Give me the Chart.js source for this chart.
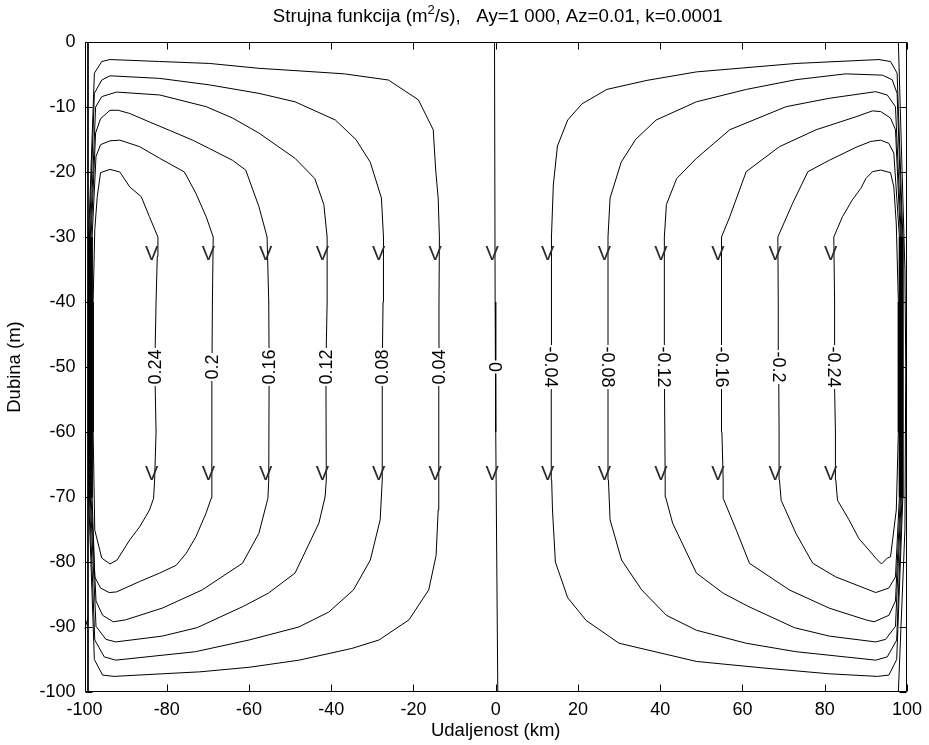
<!DOCTYPE html>
<html>
<head>
<meta charset="utf-8">
<script src="https://cdn.jsdelivr.net/npm/chart.js@4/dist/chart.umd.min.js"></script>
<style>html,body{margin:0;padding:0;background:#fff;}canvas{display:block;}</style>
</head>
<body>
<canvas id="c" width="929" height="745"></canvas>
<script>
// ---- tick labels ----
const xTickValues = [-100, -80, -60, -40, -20, 0, 20, 40, 60, 80, 100];
const yTickValues = [0, -10, -20, -30, -40, -50, -60, -70, -80, -90, -100];

// ---- contour levels (labels) and where they sit ----
const levelLabels = ['0.24', '0.2', '0.16', '0.12', '0.08', '0.04', '0', '-0.04', '-0.08', '-0.12', '-0.16', '-0.2', '-0.24'];
const levelValues = [0.24, 0.2, 0.16, 0.12, 0.08, 0.04, 0, -0.04, -0.08, -0.12, -0.16, -0.2, -0.24];
const levelLineX = [-82.8, -69.0, -55.1, -41.3, -27.6, -13.9, 0.0, 13.5, 27.3, 41.0, 54.9, 68.8, 82.3];
const labelDepth = [-50];
const arrowDepths = [-32.5, -66.4];

// ---- contour psi = 0.24 ----
const c024x = [-82.9, -82.6, -82.3, -82.15, -84.2, -86.2, -89.0, -91.4, -93.8, -96.1, -96.9, -97.5, -97.9, -97.9, -97.5, -95.8, -93.8, -92.1, -90.6, -89.0, -86.6, -84.2, -83.2, -82.95, -82.6, -82.9];
const c024y = [-50, -40, -33, -30, -26.9, -23.8, -22.3, -20.0, -19.6, -20.1, -23.8, -28.9, -40, -60, -75.1, -79.4, -80.3, -79.7, -78.2, -76.6, -74.6, -72.0, -70.2, -67.4, -60, -50];
// ---- contour psi = 0.2 ----
const c020x = [-69.0, -68.9, -68.7, -70.4, -72.9, -75.7, -81.7, -86.6, -91.4, -93.8, -96.1, -97.2, -98.15, -98.15, -97.5, -96.1, -94.0, -92.2, -86.6, -81.7, -77.7, -75.3, -72.9, -70.45, -69.2, -69.0, -69.1, -69.0];
const c020y = [-50, -40, -30, -26.9, -23.3, -20.0, -17.9, -16.1, -15.1, -15.2, -15.8, -17.6, -30, -70, -82.3, -84.0, -84.7, -84.6, -83.0, -81.7, -80.5, -78.7, -76.1, -72.5, -70.2, -67.4, -60, -50];
// ---- contour psi = 0.16 ----
const c016x = [-55.1, -55.2, -55.6, -57.6, -60.8, -64.0, -69.6, -73.7, -79.3, -84.2, -89.0, -91.8, -93.8, -96.1, -97.3, -98.4, -98.4, -97.2, -95.6, -93.0, -90.0, -81.1, -71.4, -61.6, -57.6, -55.4, -55.2, -55.1];
const c016y = [-50, -40, -30, -25.3, -19.7, -18.2, -16.4, -15.1, -13.6, -12.3, -11.0, -10.5, -10.5, -11.8, -14.0, -30, -70, -86.0, -88.2, -89.2, -88.9, -87.1, -84.3, -80.2, -75.6, -70.2, -67.4, -50];
// ---- contour psi = 0.12 ----
const c012x = [-41.3, -41.0, -41.0, -41.8, -44.0, -48.8, -57.6, -64.0, -70.4, -81.7, -92.2, -95.8, -97.3, -98.6, -98.6, -97.2, -94.8, -92.4, -81.1, -72.6, -61.3, -55.3, -48.8, -46.0, -43.0, -41.5, -41.2, -41.3];
const c012y = [-50, -40, -30, -25, -21, -17.9, -14.0, -11.7, -9.95, -8.15, -7.7, -8.4, -10.0, -30, -70, -89.9, -91.9, -92.3, -91.4, -90.1, -86.8, -84.8, -81.7, -78, -74, -70, -67.4, -50];
// ---- contour psi = 0.08 ----
const c008x = [-27.6, -27.4, -27.3, -27.8, -30.5, -34.0, -39.0, -48.8, -57.6, -69.6, -81.7, -93.8, -95.8, -97.6, -98.8, -98.8, -97.5, -95.2, -92.4, -73.0, -60.0, -47.9, -40.6, -34.6, -30.5, -28.1, -27.6, -27.6];
const c008y = [-50, -40, -30, -24, -18.5, -15, -12, -9.2, -7.9, -6.6, -5.6, -5.2, -5.85, -7.9, -30, -70, -92, -94.6, -95.1, -93.8, -92, -90, -87.7, -84.3, -79.7, -73.5, -67.4, -50];
// ---- contour psi = 0.04 ----
const c004x = [-13.9, -13.8, -13.7, -14.0, -14.6, -15.2, -18.8, -26.1, -36.8, -48.8, -57.6, -69.6, -81.7, -93.8, -95.8, -97.6, -99.0, -99.0, -97.6, -95.6, -92.8, -81.1, -72.0, -60.0, -47.8, -35.0, -28.4, -21.1, -16.3, -14.5, -14.0, -13.8, -13.9];
const c004y = [-50, -40, -30, -24, -19.7, -13.5, -8.9, -5.85, -4.9, -4.4, -4.05, -3.3, -3.0, -2.7, -3.0, -4.8, -30, -70, -95, -97.4, -97.6, -97.2, -96.9, -96.2, -95.1, -93.3, -92.0, -88.9, -84.3, -79, -72, -67.4, -50];
// ---- contour psi = 0 (middle and walls) ----
const c000x = [-0.3, -0.15, 0.0, 0.5];
const c000y = [0, -40, -60, -100];
const wallLx = [-99.15, -99.15];
const wallLy = [0, -100];
const wallBitX = [-99.95, -99.15];
const wallBitY = [-90.3, -88.6];
const wallRx = [97.9, 99.5, 99.7, 99.5, 97.9];
const wallRy = [0, -35, -50, -75, -100];
// ---- contour psi = -0.04 ----
const cm004x = [13.5, 13.5, 13.6, 14.0, 15.0, 17.5, 21.0, 27.0, 36.8, 48.8, 73.0, 93.2, 96.0, 97.6, 99.0, 99.0, 97.5, 95.6, 92.8, 81.1, 65.0, 48.8, 30.0, 22.0, 17.5, 14.5, 13.8, 13.6, 13.5];
const cm004y = [-50, -40, -30, -22, -16, -12, -9.5, -7.3, -5.9, -4.6, -3.3, -2.7, -3.0, -4.8, -30, -70, -95, -97.4, -97.6, -97.2, -96.3, -95.3, -92.5, -89, -85.5, -80, -72, -67.4, -50];
// ---- contour psi = -0.08 ----
const cm008x = [27.3, 27.3, 27.3, 27.8, 30.5, 34.0, 39.0, 48.8, 60.9, 73.0, 85.1, 94.0, 96.4, 97.6, 98.8, 98.8, 97.5, 95.2, 92.4, 73.0, 60.9, 48.8, 41.5, 35.5, 30.6, 27.8, 27.4, 27.3];
const cm008y = [-50, -40, -30, -24, -18.5, -15, -12, -9.2, -7.3, -5.8, -4.9, -5.1, -5.8, -7.9, -30, -70, -92, -94.6, -95.1, -93.8, -92.5, -90.5, -88.2, -84.3, -79.7, -73.5, -67.4, -50];
// ---- contour psi = -0.12 ----
const cm012x = [41.0, 41.0, 41.0, 41.5, 44.0, 48.8, 56.9, 70.6, 81.1, 92.4, 95.2, 97.2, 98.6, 98.6, 97.2, 94.8, 92.4, 81.1, 72.6, 61.3, 55.3, 48.8, 46.0, 43.0, 41.3, 41.2, 41.0];
const cm012y = [-50, -40, -30, -25, -21, -17.9, -13.5, -9.95, -8.66, -7.64, -8.15, -9.95, -30, -70, -89.9, -91.9, -92.3, -91.4, -90.1, -86.8, -84.8, -81.7, -78, -74, -70, -67.4, -50];
// ---- contour psi = -0.16 ----
const cm016x = [54.9, 54.9, 54.9, 56.9, 60.9, 69.0, 77.9, 87.6, 91.6, 93.6, 96.0, 97.2, 98.4, 98.4, 97.2, 95.6, 92.0, 90.0, 81.1, 71.4, 61.7, 58.5, 55.3, 55.3, 55.0, 54.9];
const cm016y = [-50, -40, -30, -26.9, -19.95, -16.1, -13.5, -11.5, -10.6, -10.7, -11.7, -13.5, -30, -70, -86, -88.2, -89.2, -88.9, -87.1, -84.3, -80.2, -75.1, -70.2, -67.4, -60, -50];
// ---- contour psi = -0.2 ----
const cm020x = [68.8, 68.7, 68.6, 72.2, 75.9, 81.1, 87.6, 91.2, 93.6, 95.6, 96.8, 98.15, 98.15, 97.2, 95.6, 92.4, 90.8, 82.7, 77.1, 73.0, 69.4, 69.0, 68.9, 68.8];
const cm020y = [-50, -40, -30, -24.8, -19.95, -18.2, -16.2, -15.3, -15.1, -15.6, -17.1, -30, -70, -82.3, -84.0, -84.7, -84.3, -82.3, -80.2, -75.6, -70.5, -67.4, -60, -50];
// ---- contour psi = -0.24 ----
const cm024x = [82.3, 82.4, 82.2, 84.3, 86.7, 88.8, 90.0, 91.6, 93.6, 96.0, 96.8, 97.4, 97.9, 97.9, 97.4, 96.0, 95.2, 93.8, 92.4, 90.8, 88.3, 85.9, 83.1, 82.7, 82.6, 82.3];
const cm024y = [-50, -40, -30, -26.9, -24.3, -22.5, -21.0, -19.95, -19.7, -20.1, -22.3, -28, -40, -60, -72, -79.2, -79.4, -80.3, -79.4, -78.2, -76.4, -73.5, -70.5, -67.4, -60, -50];

const titleParts = ['Strujna funkcija (m', '2', '/s),   Ay=1 000, Az=0.01, k=0.0001'];
const xTitle = 'Udaljenost (km)';
const yTitle = 'Dubina (m)';

const FONT = '"Liberation Sans", Arial, Helvetica, sans-serif';

const lines = [
  [c024x, c024y], [c020x, c020y], [c016x, c016y], [c012x, c012y], [c008x, c008y], [c004x, c004y],
  [c000x, c000y], [wallLx, wallLy], [wallBitX, wallBitY], [wallRx, wallRy],
  [cm004x, cm004y], [cm008x, cm008y], [cm012x, cm012y], [cm016x, cm016y], [cm020x, cm020y], [cm024x, cm024y]
];

const datasets = lines.map(([xs, ys]) => ({
  data: xs.map((v, i) => ({x: v, y: ys[i]})),
  showLine: true,
  borderColor: '#000',
  borderWidth: 1,
  pointRadius: 0,
  pointHoverRadius: 0,
  tension: 0,
  fill: false
}));

const deco = {
  id: 'deco',
  afterDatasetsDraw(chart) {
    const {ctx, chartArea: a, scales: {x, y}} = chart;
    ctx.save();
    // contour labels with gap
    ctx.font = '18px ' + FONT;
    ctx.textAlign = 'center';
    ctx.textBaseline = 'middle';
    levelLabels.forEach((t, i) => {
      const px = x.getPixelForValue(levelLineX[i]);
      const py = y.getPixelForValue(labelDepth[0]);
      const w = ctx.measureText(t).width;
      ctx.save();
      ctx.translate(px, py);
      ctx.rotate(levelValues[i] >= 0 ? -Math.PI / 2 : Math.PI / 2);
      ctx.fillStyle = '#fff';
      ctx.fillRect(-w / 2 - 1.5, -7, w + 3, 14);
      ctx.fillStyle = '#000';
      ctx.fillText(t, 0, 1);
      ctx.restore();
    });
    // flow direction marks
    ctx.font = '20px ' + FONT;
    ctx.fillStyle = '#2b2b2b';
    levelLineX.forEach((lx) => {
      arrowDepths.forEach((d) => {
        ctx.fillText('V', x.getPixelForValue(lx) - 3.5, y.getPixelForValue(d) + 1);
      });
    });
    // frame and inward ticks
    ctx.strokeStyle = '#000';
    ctx.lineWidth = 1;
    const L = Math.round(a.left) + 0.5, R = Math.round(a.right) - 0.5;
    const T = Math.round(a.top) + 0.5, B = Math.round(a.bottom) - 0.5;
    ctx.beginPath();
    ctx.rect(L, T, R - L, B - T);
    xTickValues.forEach(v => {
      const px = Math.round(x.getPixelForValue(v)) + 0.5;
      ctx.moveTo(px, B); ctx.lineTo(px, B - 7);
      ctx.moveTo(px, T); ctx.lineTo(px, T + 7);
    });
    yTickValues.forEach(v => {
      const py = Math.round(y.getPixelForValue(v)) + 0.5;
      ctx.moveTo(L, py); ctx.lineTo(L + 7, py);
      ctx.moveTo(R, py); ctx.lineTo(R - 7, py);
    });
    ctx.stroke();
    // title with superscript
    const cx = (a.left + a.right) / 2 + 2;
    const ty = 17;
    ctx.fillStyle = '#000';
    ctx.textAlign = 'left';
    ctx.textBaseline = 'middle';
    ctx.font = '18.7px ' + FONT;
    const w1 = ctx.measureText(titleParts[0]).width;
    const w3 = ctx.measureText(titleParts[2]).width;
    ctx.font = '13px ' + FONT;
    const w2 = ctx.measureText(titleParts[1]).width;
    let sx = cx - (w1 + w2 + w3) / 2;
    ctx.font = '18.7px ' + FONT;
    ctx.fillText(titleParts[0], sx, ty);
    sx += w1;
    ctx.font = '13px ' + FONT;
    ctx.fillText(titleParts[1], sx, ty - 7);
    sx += w2;
    ctx.font = '18.7px ' + FONT;
    ctx.fillText(titleParts[2], sx, ty);
    ctx.restore();
  }
};

new Chart(document.getElementById('c'), {
  type: 'scatter',
  data: {datasets},
  plugins: [deco],
  options: {
    responsive: false,
    animation: false,
    devicePixelRatio: 1,
    events: [],
    layout: {padding: {left: 0, right: 17.5, top: 42, bottom: 0}},
    plugins: {legend: {display: false}, tooltip: {enabled: false}, title: {display: false}},
    scales: {
      x: {
        type: 'linear', min: -100, max: 100,
        grid: {display: false, drawTicks: false},
        border: {display: false},
        afterBuildTicks: s => { s.ticks = xTickValues.map(v => ({value: v})); },
        afterFit: s => { s.height = 53; },
        ticks: {color: '#000', font: {family: FONT, size: 18}, padding: 7, maxRotation: 0, autoSkip: false},
        title: {display: true, text: xTitle, color: '#000', font: {family: FONT, size: 18.5}, padding: {top: 0, bottom: 3}}
      },
      y: {
        type: 'linear', min: -100, max: 0,
        grid: {display: false, drawTicks: false},
        border: {display: false},
        afterBuildTicks: s => { s.ticks = yTickValues.map(v => ({value: v})); },
        afterFit: s => { s.width = 84.5; },
        ticks: {color: '#000', font: {family: FONT, size: 18}, padding: 9, autoSkip: false},
        title: {display: true, text: yTitle, color: '#000', font: {family: FONT, size: 18.5}, padding: {top: 4, bottom: 0}}
      }
    }
  }
});
</script>
</body>
</html>
